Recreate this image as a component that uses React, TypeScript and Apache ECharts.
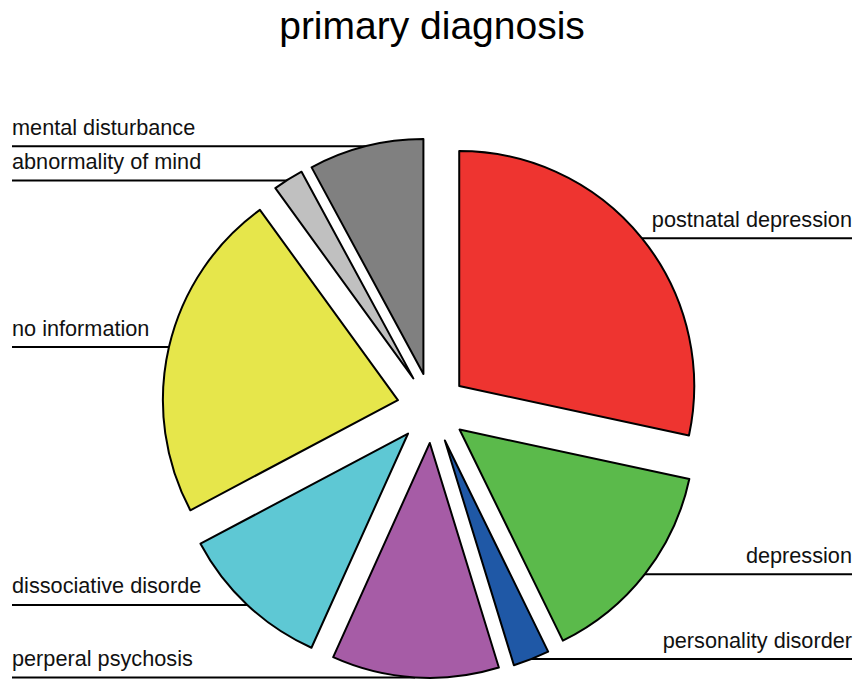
import React, { useEffect, useRef } from "react";
import * as echarts from "echarts";

const categories = [
  "postnatal depression",
  "depression",
  "personality disorder",
  "perperal psychosis",
  "dissociative disorde",
  "no information",
  "abnormality of mind",
  "mental disturbance",
];
const values = [28.4, 14.4, 2.5, 11.5, 10.5, 22.8, 2.1, 7.9];
const colors = [
  "#EE3430",
  "#5BBA4B",
  "#1F58A6",
  "#A65CA6",
  "#5EC8D4",
  "#E6E64B",
  "#C0C0C0",
  "#808080",
];
const titleText = "primary diagnosis";

export default function App() {
  const ref = useRef<HTMLDivElement>(null);
  useEffect(() => {
    if (!ref.current) return;
    const chart = echarts.init(ref.current, null, { renderer: "svg" });
    const W = 857;
    const OFFSET = 35;
    const total = values.reduce((a, b) => a + b, 0);
    // x-offset each sector gets from the selection explosion
    const offX: number[] = [];
    let cum = 0;
    values.forEach((v) => {
      const midDeg = 90 - ((cum + v / 2) / total) * 360;
      offX.push(Math.cos((midDeg * Math.PI) / 180) * OFFSET);
      cum += v;
    });
    chart.setOption({
      animation: false,
      backgroundColor: "#ffffff",
      title: {
        text: titleText,
        left: 427,
        textAlign: "center",
        top: 1,
        textStyle: {
          fontFamily: "Liberation Sans, Arial, sans-serif",
          fontSize: 39,
          fontWeight: "normal",
          color: "#000",
        },
      },
      series: [
        {
          type: "pie",
          center: [432, 408],
          radius: [0, 235],
          startAngle: 90,
          clockwise: true,
          selectedMode: "multiple",
          selectedOffset: OFFSET,
          avoidLabelOverlap: true,
          data: categories.map((name, i) => ({
            name,
            value: values[i],
            selected: true,
            itemStyle: { color: colors[i] },
          })),
          itemStyle: { borderColor: "#000", borderWidth: 2 },
          label: {
            show: true,
            position: "outer",
            alignTo: "edge",
            edgeDistance: 8,
            formatter: "{b}",
            fontFamily: "Liberation Sans, Arial, sans-serif",
            fontSize: 21.7,
            color: "#111",
            minMargin: 8,
          },
          labelLine: {
            show: true,
            length: 0,
            length2: 10,
            lineStyle: { color: "#000", width: 2 },
          },
          labelLayout: (params: any) => {
            const isLeft = params.labelRect.x < W / 2;
            const ox = offX[params.dataIndex] || 0;
            const pts = params.labelLinePoints;
            if (pts && pts[2]) {
              pts[2][0] = (isLeft ? 12 : 852) - ox;
            }
            return {
              dx: -ox + (isLeft ? 4 : 3),
              dy: -19,
              labelLinePoints: pts,
            };
          },
          emphasis: { disabled: true },
        },
      ],
    });
    return () => chart.dispose();
  }, []);
  return (
    <div
      ref={ref}
      style={{ position: "fixed", left: 0, top: 0, width: 857, height: 680 }}
    />
  );
}
